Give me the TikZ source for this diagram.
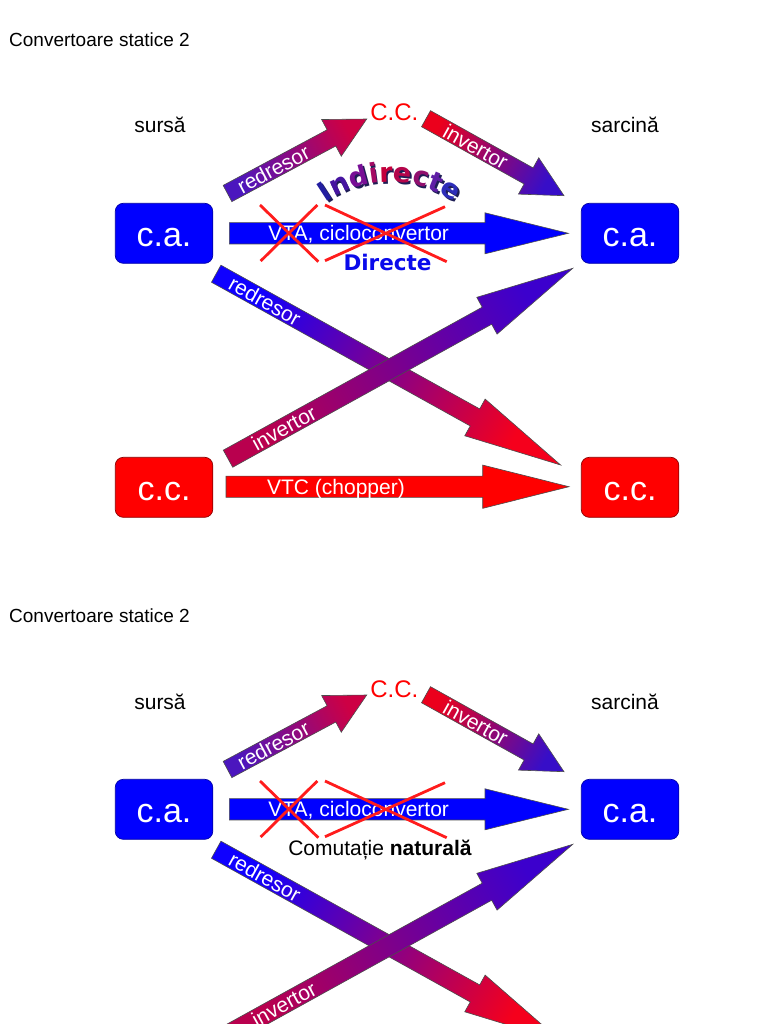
\documentclass[tikz,border=0pt]{standalone}
\usepackage{fontspec}
\setmainfont{Liberation Sans}
\newfontfamily\dejavu{DejaVu Sans}
\usetikzlibrary{calc,decorations.text}

\definecolor{boxblue}{RGB}{0,0,255}
\definecolor{boxred}{RGB}{255,0,0}
\definecolor{crossred}{RGB}{255,28,28}
\definecolor{dirblue}{RGB}{10,10,235}
\definecolor{shadowc}{RGB}{30,30,85}
% gradients
\definecolor{trA}{RGB}{75,22,190}  \definecolor{trB}{RGB}{205,0,68}
\definecolor{tiA}{RGB}{235,0,28}   \definecolor{tiB}{RGB}{55,14,200}
\definecolor{drA}{RGB}{15,0,255}   \definecolor{drB}{RGB}{245,0,28}
\definecolor{diA}{RGB}{185,0,78}   \definecolor{diB}{RGB}{60,0,205}
% Indirecte letters
\definecolor{iA}{RGB}{35,30,160}  \definecolor{iB}{RGB}{70,20,160}
\definecolor{iC}{RGB}{120,15,150} \definecolor{iD}{RGB}{165,10,100}
\definecolor{iE}{RGB}{195,0,60}   \definecolor{iF}{RGB}{180,5,75}
\definecolor{iG}{RGB}{145,15,110} \definecolor{iH}{RGB}{95,30,165}
\definecolor{iI}{RGB}{45,45,185}

\newcommand{\indfont}{\dejavu\bfseries\fontsize{27}{30}\selectfont}

% #1 tail coordinate, #2 angle, #3 length, #4 half shaft, #5 head length, #6 half head, #7 options
\newcommand{\fatarrow}[7]{%
  \path[#7]
    ($(#1)+({#2-90}:#4)$) --
    ($(#1)+(#2:{#3-#5})+({#2-90}:#4)$) --
    ($(#1)+(#2:{#3-#5})+({#2-90}:#6)$) --
    ($(#1)+(#2:#3)$) --
    ($(#1)+(#2:{#3-#5})+({#2+90}:#6)$) --
    ($(#1)+(#2:{#3-#5})+({#2+90}:#4)$) --
    ($(#1)+({#2+90}:#4)$) -- cycle;}

\tikzset{
  ubox/.style={rounded corners=8pt, minimum width=97.5pt, minimum height=60pt,
    inner sep=0pt, line width=0.7pt, text=white,
    font=\fontsize{34}{40}\selectfont, text height=25.7pt, text depth=0pt},
  boxca/.style={ubox, fill=boxblue, draw=boxblue!65!black},
  boxcc/.style={ubox, fill=boxred, draw=boxred!55!black},
  arrowlabel/.style={text=white, font=\fontsize{21}{25}\selectfont,
    inner sep=0pt, text height=15.3pt, text depth=0pt},
  heading/.style={font=\fontsize{19}{23}\selectfont, anchor=base west, inner sep=0pt},
  sidelabel/.style={font=\fontsize{21}{25}\selectfont, anchor=base, inner sep=0pt},
  outline/.style={draw=black!70, line width=0.6pt},
  crossline/.style={draw=crossred, line width=2.8pt},
}

% upper part of a panel (title, c.a. row, C.C. and the crossing diagonals)
\newcommand{\convpanel}[1]{%
  \node[heading] (title#1) at (9,-46.7) {Convertoare statice 2};
  \node[sidelabel] (src#1) at (160,-133) {sursă};
  \node[sidelabel] (load#1) at (625,-133) {sarcină};
  \node[boxca] (caL#1) at (164,-233.3) {c.a.};
  \node[boxca] (caR#1) at (630,-233.3) {c.a.};
  \node[text=boxred, font=\fontsize{24}{28}\selectfont, anchor=base, inner sep=0pt]
    (dc#1) at (394.3,-121) {C.C.};
  \coordinate (t1#1) at (227.5,-193.5);
  \coordinate (t2#1) at (426,-118.7);
  \coordinate (t3#1) at (229.3,-233.3);
  \coordinate (t4#1) at (216.2,-273.7);
  \coordinate (t5#1) at (228,-458.7);
  \fatarrow{t1#1}{28.15}{157.9}{9.2}{40}{20.8}{outline, top color=trB, bottom color=trA, shading angle=-61.85}
  \fatarrow{t2#1}{-29.16}{158}{9.2}{40.5}{20.8}{outline, top color=tiB, bottom color=tiA, shading angle=-119.16}
  \fatarrow{t3#1}{0}{339}{10.65}{83.3}{20.5}{outline, fill=boxblue}
  \fatarrow{t4#1}{-29.05}{394}{9.75}{98}{21}{outline, top color=drB, bottom color=drA, shading angle=-119.05}
  \fatarrow{t5#1}{28.91}{393.8}{9.75}{98}{21}{outline, top color=diB, bottom color=diA, shading angle=-61.09}
  \node[arrowlabel, rotate=28.15] (l1#1) at ($(t1#1)+(28.15:52)$) {redresor};
  \node[arrowlabel, rotate=-29.16] (l2#1) at ($(t2#1)+(-29.16:57)$) {invertor};
  \node[arrowlabel] (l3#1) at ($(t3#1)+(0:129.4)$) {VTA, cicloconvertor};
  \node[arrowlabel, rotate=-29.05] (l4#1) at ($(t4#1)+(-29.05:55.8)$) {redresor};
  \node[arrowlabel, rotate=28.91] (l5#1) at ($(t5#1)+(28.91:63.8)$) {invertor};
  \draw[crossline] (260,-205) -- (318.3,-261.7);
  \draw[crossline] (317.3,-205) -- (260.7,-261);
  \draw[crossline] (325,-205) -- (446.7,-261.7);
  \draw[crossline] (325,-260.7) -- (445,-206.7);
}

% lower row (c.c. boxes and chopper arrow)
\newcommand{\lowerrow}[1]{%
  \node[boxcc] (ccL#1) at (164,-487.3) {c.c.};
  \node[boxcc] (ccR#1) at (630,-487.3) {c.c.};
  \coordinate (t6#1) at (226,-486.7);
  \fatarrow{t6#1}{0}{343}{10.65}{86.3}{21.65}{outline, fill=boxred}
  \node[arrowlabel] (l6#1) at ($(t6#1)+(0:110)$) {VTC (chopper)};
}

\begin{document}
\begin{tikzpicture}[x=1pt,y=1pt]
  \useasboundingbox (0,0) rectangle (768,-1024);
  \clip (0,0) rectangle (768,-1024);
  \fill[white] (0,0) rectangle (768,-1024);

  % ---- first panel ----
  \convpanel{a}
  \lowerrow{a}
  \path[decorate, decoration={text along path, text align=center,
      text={|\indfont\color{shadowc}|Indirecte}}]
    ($(391.6,-294)+(140:110)$) arc[start angle=140, end angle=40, radius=110];
  \path[decorate, decoration={text along path, text align=center,
      text={|\indfont\color{iA}|I|\indfont\color{iB}|n|\indfont\color{iC}|d|\indfont\color{iD}|i|\indfont\color{iE}|r|\indfont\color{iF}|e|\indfont\color{iG}|c|\indfont\color{iH}|t|\indfont\color{iI}|e}}]
    ($(390,-292)+(140:110)$) arc[start angle=140, end angle=40, radius=110];
  \node[font=\dejavu\bfseries\fontsize{21.5}{25}\selectfont, text=dirblue,
    anchor=base, inner sep=0pt] (directe) at (387.5,-270) {Directe};

  % ---- second panel (its lower row lies below the page edge) ----
  \begin{scope}[yshift=-576pt]
    \convpanel{b}
    \node[font=\fontsize{21}{25}\selectfont, anchor=base, inner sep=0pt]
      (comut) at (380,-279) {Comutație \textbf{naturală}};
  \end{scope}
\end{tikzpicture}
\end{document}
